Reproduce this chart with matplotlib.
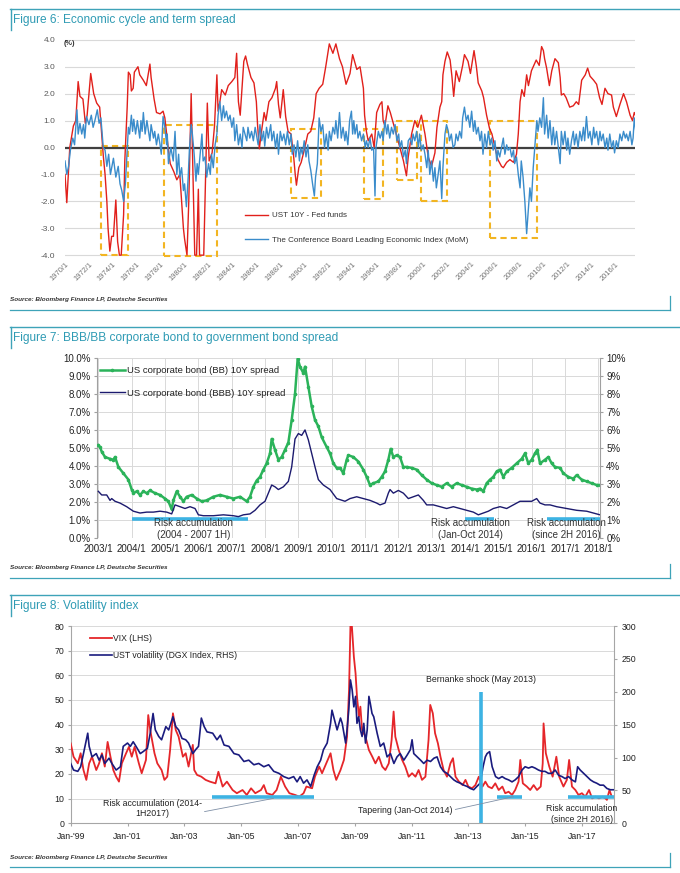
import matplotlib
matplotlib.use('Agg')
import matplotlib.pyplot as plt
from matplotlib.lines import Line2D
from matplotlib.patches import Rectangle
from matplotlib.ticker import FuncFormatter, FixedLocator

plt.rcParams['font.family'] = ['Liberation Sans', 'DejaVu Sans']
plt.rcParams['axes.unicode_minus'] = False

# ---------------- Figure 6 data ----------------
f6_red_t = [1970.0,1970.15,1970.4,1970.7,1970.9,1971.1,1971.25,1971.5,1971.7,1971.85,1972.15,1972.4,1972.65,1972.9,
            1973.05,1973.2,1973.35,1973.5,1973.6,1973.75,1973.9,1974.05,1974.25,1974.4,1974.55,1974.7,1974.9,1975.0,
            1975.2,1975.3,1975.45,1975.55,1975.7,1975.8,1976.1,1976.25,1976.55,1976.8,1977.1,1977.2,1977.45,1977.65,
            1977.95,1978.2,1978.35,1978.5,1978.65,1978.8,1979.1,1979.35,1979.6,1979.9,1980.0,1980.2,1980.35,1980.55,
            1980.7,1980.85,1981.0,1981.15,1981.25,1981.6,1981.9,1982.05,1982.3,1982.5,1982.7,1982.8,1982.95,1983.1,
            1983.4,1983.65,1983.95,1984.2,1984.35,1984.5,1984.65,1984.95,1985.1,1985.25,1985.55,1985.8,1986.0,1986.1,
            1986.25,1986.4,1986.65,1986.8,1987.05,1987.3,1987.6,1987.7,1987.85,1988.0,1988.25,1988.45,1988.65,1988.9,
            1989.1,1989.25,1989.35,1989.55,1989.75,1990.0,1990.3,1990.55,1990.8,1991.0,1991.25,1991.55,1991.8,1992.1,
            1992.4,1992.65,1992.95,1993.2,1993.5,1993.83,1994.05,1994.4,1994.67,1994.95,1995.05,1995.2,1995.35,1995.65,
            1995.85,1996.06,1996.33,1996.5,1996.6,1996.75,1997.0,1997.2,1997.45,1997.7,1998.0,1998.3,1998.55,1998.7,
            1998.98,1999.25,1999.5,1999.8,2000.1,2000.37,2000.65,2000.93,2001.1,2001.35,2001.5,2001.6,2001.77,2001.96,
            2002.2,2002.35,2002.5,2002.7,2002.97,2003.25,2003.4,2003.7,2003.9,2004.2,2004.4,2004.55,2004.85,2005.0,
            2005.25,2005.5,2005.7,2005.95,2006.2,2006.5,2006.65,2006.93,2007.2,2007.5,2007.75,2007.9,2008.05,2008.2,
            2008.4,2008.6,2008.75,2009.0,2009.15,2009.4,2009.65,2009.85,2010.0,2010.1,2010.27,2010.5,2010.7,2010.97,
            2011.25,2011.4,2011.5,2011.7,2011.9,2012.2,2012.5,2012.75,2012.95,2013.2,2013.5,2013.7,2013.9,2014.2,
            2014.45,2014.7,2014.9,2015.15,2015.4,2015.7,2015.85,2016.1,2016.4,2016.7,2016.95,2017.25,2017.45,2017.6,
            2017.75]
f6_red_v = [-1.0,-2.05,0.0,0.8,1.0,2.45,1.9,1.8,0.9,1.2,2.75,2.0,1.65,1.5,
            0.6,-0.3,-1.0,-2.0,-3.0,-3.85,-3.3,-3.3,-1.95,-3.5,-4.0,-4.0,-2.5,-0.5,
            1.5,2.8,2.7,2.1,2.2,2.8,3.0,2.7,2.5,2.3,3.1,2.6,1.8,1.3,
            1.25,1.35,1.1,0.5,-0.1,-0.6,-0.9,-1.2,-1.0,-3.0,-3.4,-4.0,-2.0,2.0,
            -1.0,-4.0,-4.0,-1.55,-4.0,-4.0,1.65,-0.5,-0.2,0.8,2.7,1.35,1.7,2.15,
            1.95,2.3,2.45,2.6,3.5,1.7,1.2,3.2,3.4,3.1,2.6,2.4,1.7,0.85,
            -0.05,0.5,1.3,1.0,1.7,1.85,2.2,2.45,1.6,1.1,2.15,1.15,0.6,0.5,
            -0.25,-1.0,-1.4,-0.75,-0.55,-0.1,0.5,0.6,1.1,2.0,2.2,2.35,3.0,3.85,
            3.5,3.85,3.3,3.0,2.35,2.75,3.45,2.9,3.0,2.2,1.2,0.6,0.25,0.5,
            0.0,1.3,1.6,1.7,1.0,0.8,1.55,1.3,0.9,0.5,0.0,-0.5,-1.05,-0.35,
            0.5,1.0,0.75,1.2,0.5,-0.35,-0.7,-0.2,0.75,1.5,1.7,2.7,3.2,3.55,
            3.25,2.65,1.9,2.85,2.45,3.05,3.45,3.2,2.75,3.6,3.0,2.4,2.1,1.85,
            1.2,0.7,0.5,0.0,-0.45,-0.7,-0.75,-0.55,-0.45,-0.55,-0.25,0.5,1.7,2.15,
            1.9,2.7,2.3,2.85,3.0,3.25,3.05,3.75,3.6,3.3,2.95,2.3,2.85,3.3,
            3.15,2.6,1.95,2.0,1.85,1.5,1.55,1.7,1.6,2.5,2.7,2.95,2.65,2.5,
            2.35,1.85,1.6,2.2,2.0,1.95,1.5,1.15,1.6,2.0,1.7,1.2,1.0,1.3,
            1.15]

f6_blue_t = [1970.0,1970.15,1970.3,1970.45,1970.65,1970.8,1971.0,1971.1,1971.25,1971.4,1971.55,1971.65,1971.8,1972.0,
             1972.2,1972.35,1972.5,1972.7,1972.85,1973.0,1973.2,1973.35,1973.5,1973.65,1973.8,1974.05,1974.25,1974.45,
             1974.6,1974.75,1974.9,1975.05,1975.15,1975.3,1975.4,1975.55,1975.65,1975.75,1975.9,1976.05,1976.25,1976.35,
             1976.45,1976.55,1976.7,1976.85,1977.1,1977.2,1977.4,1977.5,1977.65,1977.8,1977.95,1978.05,1978.2,1978.35,
             1978.5,1978.55,1978.65,1978.85,1979.05,1979.2,1979.35,1979.5,1979.6,1979.75,1979.9,1980.0,1980.15,1980.3,
             1980.4,1980.55,1980.65,1980.8,1980.95,1981.05,1981.15,1981.3,1981.45,1981.55,1981.7,1981.85,1982.0,1982.15,
             1982.25,1982.4,1982.55,1982.7,1982.8,1982.95,1983.1,1983.25,1983.35,1983.5,1983.65,1983.8,1983.95,1984.1,
             1984.2,1984.35,1984.5,1984.65,1984.8,1984.9,1985.05,1985.2,1985.3,1985.45,1985.6,1985.75,1985.9,1986.05,
             1986.15,1986.3,1986.45,1986.6,1986.7,1986.85,1987.0,1987.2,1987.3,1987.45,1987.6,1987.75,1987.85,1988.0,
             1988.15,1988.3,1988.45,1988.6,1988.75,1988.9,1989.0,1989.15,1989.3,1989.45,1989.6,1989.7,1989.85,1990.0,
             1990.15,1990.3,1990.4,1990.55,1990.7,1990.85,1990.95,1991.1,1991.25,1991.4,1991.55,1991.7,1991.85,1992.0,
             1992.1,1992.25,1992.4,1992.55,1992.65,1992.8,1992.95,1993.1,1993.25,1993.4,1993.5,1993.65,1993.8,1993.95,
             1994.05,1994.15,1994.25,1994.4,1994.5,1994.65,1994.8,1994.95,1995.1,1995.2,1995.35,1995.5,1995.65,1995.8,
             1995.92,1996.0,1996.2,1996.35,1996.5,1996.6,1996.75,1996.9,1997.0,1997.15,1997.3,1997.45,1997.6,1997.75,
             1997.9,1998.0,1998.15,1998.3,1998.45,1998.55,1998.7,1998.85,1999.0,1999.1,1999.25,1999.4,1999.55,1999.65,
             1999.8,1999.95,2000.1,2000.25,2000.37,2000.5,2000.65,2000.8,2000.93,2001.05,2001.2,2001.35,2001.5,2001.6,
             2001.77,2001.9,2002.05,2002.15,2002.3,2002.45,2002.6,2002.7,2002.85,2003.0,2003.15,2003.25,2003.4,2003.55,
             2003.7,2003.85,2004.0,2004.15,2004.27,2004.4,2004.55,2004.7,2004.83,2004.95,2005.1,2005.25,2005.4,2005.55,
             2005.67,2005.8,2005.95,2006.1,2006.2,2006.35,2006.5,2006.65,2006.78,2006.93,2007.05,2007.2,2007.35,2007.5,
             2007.6,2007.75,2007.9,2008.05,2008.15,2008.3,2008.45,2008.6,2008.72,2008.87,2009.0,2009.15,2009.3,2009.45,
             2009.55,2009.7,2009.85,2010.0,2010.1,2010.27,2010.4,2010.55,2010.7,2010.83,2010.95,2011.1,2011.25,2011.4,
             2011.5,2011.65,2011.8,2011.95,2012.05,2012.2,2012.35,2012.5,2012.6,2012.75,2012.9,2013.05,2013.2,2013.35,
             2013.45,2013.6,2013.75,2013.9,2014.05,2014.2,2014.3,2014.45,2014.6,2014.73,2014.85,2015.0,2015.15,2015.3,
             2015.4,2015.55,2015.7,2015.85,2015.95,2016.1,2016.25,2016.4,2016.55,2016.7,2016.85,2016.95,2017.1,2017.25,
             2017.4,2017.5,2017.6,2017.75]
f6_blue_v = [-0.5,-1.0,-0.7,-0.1,0.35,0.1,1.4,0.5,0.9,0.5,0.85,0.35,1.15,0.85,
             1.2,0.75,1.0,1.4,0.9,1.1,0.0,-0.1,-0.7,-0.25,-1.0,-0.4,-1.1,-0.7,
             -1.35,-1.6,-2.0,-1.35,-0.5,0.75,0.5,1.2,0.6,1.05,0.5,1.0,0.35,1.0,
             0.6,1.3,0.5,1.0,0.25,0.85,0.35,0.6,0.1,0.5,0.1,-0.25,1.15,0.75,
             0.1,0.5,-0.6,0.0,-0.5,0.6,-1.0,-0.25,-1.1,-0.75,-1.6,-1.35,-2.2,-1.1,
             -0.1,0.85,0.5,-0.25,-1.25,-0.6,-1.0,-0.25,0.5,-0.5,-0.35,-1.1,-0.6,-1.0,
             -0.25,-0.75,0.1,0.5,1.2,1.7,1.0,1.55,1.1,1.35,1.0,1.2,0.75,1.1,
             0.25,0.85,0.1,0.5,0.0,0.75,0.5,0.25,0.75,0.35,0.6,0.25,0.75,0.35,
             0.1,0.85,0.25,0.6,0.05,0.75,0.35,0.85,0.25,0.6,0.0,0.5,-0.25,0.6,
             0.25,0.5,0.1,0.6,0.1,0.5,-0.25,0.1,-0.35,0.25,-0.5,0.0,-0.25,0.25,
             -0.35,0.1,-0.5,-0.85,-1.35,-1.8,-1.1,-0.6,1.1,0.6,0.85,0.0,0.5,-0.1,
             0.6,0.25,0.75,0.5,1.0,0.35,1.3,0.35,0.75,0.25,0.6,0.1,1.0,1.35,
             0.5,1.0,0.5,0.85,0.35,0.6,0.25,0.5,0.0,0.25,0.0,0.35,-0.1,0.0,
             -1.8,0.0,0.6,0.35,0.6,0.25,1.0,0.5,0.85,0.35,0.75,0.5,0.85,0.25,
             0.5,0.0,0.25,-0.35,-0.1,-0.6,0.25,0.35,0.1,0.5,0.25,0.6,0.0,0.5,
             -0.1,0.1,-0.25,-0.75,-0.1,-1.0,-0.5,-1.25,-0.75,-1.5,-1.0,-0.5,-1.9,-0.75,
             0.5,0.85,0.6,0.25,0.5,0.0,0.1,0.5,0.25,0.6,0.35,1.1,1.5,1.0,
             1.2,0.75,1.35,0.6,1.0,0.5,0.75,0.25,0.6,-0.25,0.5,0.0,0.6,0.1,
             0.35,-0.1,0.25,-0.5,-0.1,-0.35,0.0,0.35,-0.25,0.1,-0.1,0.0,-0.35,-0.1,
             -0.6,-0.35,-1.0,-1.5,-0.5,-1.1,-2.0,-3.2,-2.45,-1.5,-2.0,-0.75,0.1,1.0,
             0.6,1.1,0.75,1.85,0.5,1.2,0.35,1.0,0.1,0.75,0.1,0.6,0.0,-0.6,
             0.6,0.1,0.6,-0.1,0.35,-0.25,0.25,0.6,0.1,0.5,0.0,0.6,0.25,0.75,
             0.25,1.15,0.35,0.6,0.1,0.75,0.35,0.6,0.1,0.6,0.25,0.5,0.0,0.35,
             -0.1,0.5,0.0,0.25,-0.2,0.25,0.0,0.5,0.25,0.6,0.35,0.5,0.25,0.6,
             0.1,0.35,1.1,0.5]

f6_box_start = [1973.0, 1978.3, 1988.9, 1995.0, 1997.8, 1999.8, 2005.5]
f6_box_end = [1975.3, 1982.7, 1991.4, 1996.55, 1999.4, 2001.9, 2009.5]
f6_box_top = [0.06, 0.83, 0.70, 0.70, 0.98, 0.98, 1.0]
f6_box_bottom = [-4.0, -4.02, -1.86, -1.9, -1.19, -1.98, -3.37]
f6_xticks = list(range(1970, 2017, 2))
f6_xlabels = [f'{y}/1' for y in f6_xticks]
f6_yticks = [-4.0, -3.0, -2.0, -1.0, 0.0, 1.0, 2.0, 3.0, 4.0]

# ---------------- Figure 7 data ----------------
f7_bb_t = [2003.0,2003.05,2003.1,2003.2,2003.35,2003.45,2003.5,2003.6,2003.75,2003.9,2004.0,2004.05,2004.15,2004.25,
           2004.35,2004.45,2004.55,2004.7,2004.85,2005.0,2005.1,2005.2,2005.25,2005.35,2005.45,2005.55,2005.65,2005.8,
           2005.95,2006.1,2006.25,2006.45,2006.65,2006.85,2007.05,2007.25,2007.45,2007.55,2007.65,2007.75,2007.85,2007.95,
           2008.05,2008.15,2008.2,2008.3,2008.4,2008.5,2008.6,2008.7,2008.8,2008.9,2008.98,2009.05,2009.15,2009.2,
           2009.3,2009.4,2009.5,2009.6,2009.7,2009.85,2009.95,2010.05,2010.15,2010.25,2010.35,2010.45,2010.5,2010.65,
           2010.8,2010.95,2011.05,2011.15,2011.25,2011.4,2011.5,2011.6,2011.7,2011.77,2011.85,2011.95,2012.05,2012.15,
           2012.25,2012.4,2012.55,2012.7,2012.85,2013.0,2013.15,2013.3,2013.45,2013.6,2013.75,2013.9,2014.05,2014.2,
           2014.35,2014.45,2014.55,2014.65,2014.75,2014.85,2014.95,2015.05,2015.15,2015.25,2015.4,2015.55,2015.7,2015.8,
           2015.9,2016.0,2016.1,2016.17,2016.25,2016.4,2016.5,2016.6,2016.7,2016.85,2016.95,2017.1,2017.25,2017.35,
           2017.5,2017.65,2017.8,2017.95,2018.05]
f7_bb_v = [5.15,5.05,4.8,4.5,4.4,4.35,4.5,3.95,3.6,3.25,2.7,2.5,2.6,2.4,
           2.6,2.5,2.65,2.5,2.4,2.2,2.05,1.6,2.1,2.6,2.3,2.05,2.3,2.4,
           2.2,2.05,2.1,2.3,2.4,2.3,2.2,2.3,2.05,2.3,2.85,3.2,3.4,3.8,
           4.15,4.7,5.5,4.9,4.35,4.5,4.9,5.3,6.55,8.0,9.95,9.5,9.15,9.5,
           8.4,7.3,6.55,6.2,5.6,5.05,4.7,4.15,3.9,3.9,3.6,4.35,4.6,4.5,
           4.25,3.8,3.4,2.95,3.05,3.15,3.4,3.7,4.35,4.95,4.5,4.6,4.5,3.95,
           3.95,3.9,3.8,3.5,3.25,3.05,2.95,2.85,3.05,2.85,3.05,2.95,2.85,2.75,
           2.7,2.75,2.6,3.05,3.25,3.4,3.7,3.8,3.4,3.7,3.9,4.15,4.4,4.7,
           4.15,4.35,4.7,4.9,4.15,4.35,4.5,4.15,3.95,3.9,3.6,3.4,3.3,3.5,
           3.25,3.15,3.05,2.95,2.95]
f7_bbb_t = [2003.0,2003.1,2003.25,2003.35,2003.4,2003.5,2003.65,2003.85,2004.05,2004.25,2004.45,2004.65,2004.85,2005.05,
            2005.2,2005.3,2005.45,2005.6,2005.75,2005.9,2006.0,2006.15,2006.45,2006.75,2007.05,2007.2,2007.35,2007.55,
            2007.7,2007.85,2008.0,2008.1,2008.2,2008.3,2008.4,2008.55,2008.7,2008.8,2008.9,2009.0,2009.1,2009.2,
            2009.3,2009.4,2009.5,2009.6,2009.75,2009.95,2010.15,2010.4,2010.55,2010.75,2010.95,2011.15,2011.35,2011.45,
            2011.6,2011.7,2011.75,2011.85,2012.0,2012.15,2012.3,2012.45,2012.6,2012.75,2012.85,2013.05,2013.25,2013.45,
            2013.65,2013.85,2014.05,2014.25,2014.4,2014.55,2014.7,2014.85,2015.05,2015.25,2015.45,2015.65,2015.85,2016.0,
            2016.15,2016.25,2016.4,2016.55,2016.75,2017.05,2017.35,2017.65,2017.85,2018.05]
f7_bbb_v = [2.6,2.4,2.4,2.1,2.2,2.05,1.95,1.75,1.5,1.4,1.45,1.45,1.5,1.45,
            1.35,1.85,1.75,1.65,1.75,1.65,1.3,1.25,1.25,1.3,1.25,1.2,1.3,1.35,
            1.55,1.85,2.05,2.5,2.95,2.85,2.7,2.85,3.15,3.95,5.5,5.8,5.7,6.0,
            5.45,4.7,3.95,3.25,2.95,2.7,2.2,2.05,2.2,2.3,2.2,2.1,1.95,1.85,
            1.95,2.5,2.7,2.5,2.65,2.5,2.2,2.3,2.4,2.1,1.85,1.85,1.75,1.65,
            1.75,1.65,1.55,1.45,1.3,1.4,1.5,1.65,1.75,1.65,1.85,2.05,2.05,2.05,
            2.2,1.95,1.85,1.85,1.75,1.65,1.55,1.5,1.4,1.3]
f7_years = list(range(2003, 2019))
f7_xlabels = [f'{y}/1' for y in f7_years]
f7_bar_start = [2004.0, 2014.0, 2016.45]
f7_bar_end = [2007.5, 2014.87, 2018.05]
f7_bar_level = 1.05
f7_notes = ['Risk accumulation\n(2004 - 2007 1H)', 'Risk accumulation\n(Jan-Oct 2014)', 'Risk accumulation\n(since 2H 2016)']
f7_note_x = [2005.85, 2014.15, 2017.05]

# ---------------- Figure 8 data ----------------
f8_vix_t = [1999.0,1999.1,1999.25,1999.35,1999.45,1999.55,1999.65,1999.75,1999.9,2000.0,2000.1,2000.2,2000.3,2000.4,
            2000.5,2000.6,2000.7,2000.8,2000.95,2001.05,2001.15,2001.25,2001.4,2001.5,2001.65,2001.73,2001.8,2001.95,
            2002.05,2002.2,2002.3,2002.4,2002.5,2002.6,2002.7,2002.8,2002.95,2003.05,2003.15,2003.3,2003.35,2003.45,
            2003.6,2003.75,2003.9,2004.1,2004.2,2004.35,2004.5,2004.7,2004.85,2005.05,2005.2,2005.35,2005.5,2005.7,
            2005.8,2005.9,2006.1,2006.25,2006.4,2006.55,2006.7,2006.9,2007.05,2007.2,2007.3,2007.5,2007.6,2007.75,
            2007.85,2008.0,2008.15,2008.25,2008.35,2008.5,2008.62,2008.73,2008.8,2008.85,2008.9,2008.97,2009.03,2009.08,
            2009.15,2009.2,2009.26,2009.38,2009.5,2009.62,2009.73,2009.85,2009.97,2010.08,2010.2,2010.3,2010.37,2010.43,
            2010.55,2010.67,2010.78,2010.9,2011.02,2011.14,2011.25,2011.37,2011.49,2011.6,2011.66,2011.75,2011.83,2011.93,
            2012.02,2012.13,2012.25,2012.37,2012.46,2012.55,2012.67,2012.8,2012.9,2013.0,2013.13,2013.25,2013.37,2013.5,
            2013.6,2013.7,2013.83,2013.95,2014.07,2014.2,2014.3,2014.42,2014.54,2014.65,2014.77,2014.83,2014.92,2015.06,
            2015.18,2015.3,2015.42,2015.55,2015.62,2015.65,2015.73,2015.85,2015.97,2016.1,2016.2,2016.35,2016.47,2016.55,
            2016.65,2016.77,2016.88,2017.0,2017.12,2017.25,2017.36,2017.48,2017.6,2017.72,2017.83,2017.88,2017.97,2018.05]
f8_vix_v = [32.4,27,24.3,28.4,21.6,17.6,24.3,27,21.6,24.3,28.4,23,33,27,
            21.6,18.9,16.9,24.3,28.4,31,27,31,24.3,20.3,25.7,43.9,37.8,28.4,
            24.3,21.6,17.6,18.9,29.7,44.6,37.8,35.1,27,28.4,23,31.8,21.6,19.6,
            18.9,17.6,16.9,16.2,20.9,14.9,16.9,13.5,12.2,13.5,11.5,14.2,12.2,13.5,
            15.5,12.2,11.5,13.5,18.9,14.9,12.2,11.5,10.8,12.2,14.9,14.2,18.9,23,
            20.3,24.3,28.4,21.6,17.6,21.6,25.7,35.1,54,80,80,67.6,60.8,51.4,
            43.2,47.3,37.8,35.1,29.7,27,24.3,27,23,21.6,24.3,33.8,45.3,35.1,
            29.7,25.7,23,18.9,20.3,18.9,21.6,17.6,18.9,33.8,48,44.6,36.5,32.4,
            27,21.6,18.9,24.3,26.4,18.9,16.9,15.5,17.6,14.9,14.2,15.5,18.9,14.9,
            16.9,14.9,14.2,16.2,13.5,14.9,12.2,12.8,11.5,13.5,16.9,25.7,16.2,14.9,
            13.5,15.5,13.5,14.9,24.3,40.5,28.4,23,18.9,27,18.9,14.9,17.6,25.7,
            14.9,13.5,11.5,12.2,10.8,13.5,10.1,10.8,10.1,10.8,10.1,9.5,13.5,10.8]
f8_dgx_t = [1999.0,1999.1,1999.25,1999.35,1999.45,1999.6,1999.65,1999.75,1999.9,2000.0,2000.1,2000.2,2000.35,2000.45,
            2000.6,2000.75,2000.85,2001.0,2001.1,2001.2,2001.3,2001.45,2001.55,2001.7,2001.8,2001.9,2001.98,2002.1,
            2002.2,2002.35,2002.45,2002.6,2002.7,2002.8,2002.92,2003.05,2003.15,2003.3,2003.4,2003.5,2003.6,2003.7,
            2003.8,2004.0,2004.15,2004.27,2004.4,2004.57,2004.75,2004.92,2005.1,2005.27,2005.45,2005.62,2005.8,2005.97,
            2006.15,2006.33,2006.5,2006.68,2006.85,2006.97,2007.08,2007.2,2007.32,2007.45,2007.57,2007.68,2007.8,2007.9,
            2008.03,2008.15,2008.2,2008.26,2008.38,2008.5,2008.56,2008.62,2008.68,2008.73,2008.79,2008.85,2008.91,2008.97,
            2009.03,2009.08,2009.14,2009.2,2009.26,2009.32,2009.38,2009.44,2009.5,2009.55,2009.61,2009.67,2009.79,2009.9,
            2010.02,2010.14,2010.26,2010.38,2010.49,2010.6,2010.73,2010.85,2010.96,2011.02,2011.08,2011.2,2011.32,2011.43,
            2011.55,2011.67,2011.79,2011.9,2012.02,2012.13,2012.25,2012.37,2012.49,2012.6,2012.72,2012.84,2012.96,2013.07,
            2013.19,2013.3,2013.42,2013.52,2013.6,2013.66,2013.75,2013.84,2013.96,2014.07,2014.19,2014.3,2014.42,2014.54,
            2014.65,2014.77,2014.89,2015.0,2015.12,2015.24,2015.35,2015.47,2015.59,2015.7,2015.82,2015.94,2016.06,2016.18,
            2016.3,2016.41,2016.53,2016.65,2016.77,2016.85,2016.94,2017.06,2017.18,2017.3,2017.41,2017.52,2017.64,2017.76,
            2017.88,2018.0,2018.1]
f8_dgx_v = [91,81,79,86,106,137,117,101,106,96,104,91,99,91,
            81,86,117,122,117,124,117,106,109,114,137,167,142,132,
            127,147,142,162,147,142,129,127,122,106,112,117,160,147,
            139,137,127,134,119,117,106,104,94,96,89,91,86,89,
            79,76,71,68,71,63,71,61,66,56,73,86,96,112,
            122,152,172,162,142,160,152,137,122,142,172,218,203,177,
            193,152,162,142,132,152,122,142,193,182,167,162,137,117,
            122,101,106,91,101,106,96,104,112,127,106,101,96,91,
            96,94,99,101,86,79,76,71,66,63,61,58,56,53,
            51,56,61,86,101,106,109,86,71,68,71,68,66,63,
            66,71,81,86,84,86,84,81,79,79,76,76,81,73,
            71,68,71,66,63,86,81,76,71,66,63,61,58,58,
            53,51,51]
f8_xticks = list(range(1999, 2018, 2))
f8_xlabels = [f"Jan-'{y % 100:02d}" for y in f8_xticks]
f8_bar_start = [2003.98, 2014.0, 2016.5]
f8_bar_end = [2007.56, 2014.9, 2018.13]
f8_bar_level = 10.5
f8_shock_x = 2013.46
f8_shock_top_rhs = 200

# ---------------- layout helpers ----------------
W, H = 680, 873
fig = plt.figure(figsize=(6.8, 8.73), dpi=100)
TEAL = '#2F9BB4'
LINE = '#3EA3B8'
SRC = 'Source: Bloomberg Finance LP, Deutsche Securities'

def fx(px):
    return px / W

def fy(py):
    return 1 - py / H

def frame(top, title, src_y, bottom):
    fig.add_artist(Line2D([fx(10), fx(680)], [fy(top), fy(top)], color=LINE, lw=1.0))
    fig.add_artist(Line2D([fx(10.5), fx(10.5)], [fy(top), fy(top + 21)], color=LINE, lw=1.0))
    fig.text(fx(13), fy(top + 11), title, color=TEAL, fontsize=8.6, va='center', ha='left')
    fig.text(fx(10), fy(src_y), SRC, fontsize=4.6, style='italic', weight='bold', color='#333333',
             va='center', ha='left')
    fig.add_artist(Line2D([fx(10), fx(670)], [fy(bottom), fy(bottom)], color=LINE, lw=0.9))
    fig.add_artist(Line2D([fx(670), fx(670)], [fy(bottom), fy(bottom - 14)], color=LINE, lw=0.9))

frame(9, 'Figure 6: Economic cycle and term spread', 300, 310)
frame(327, 'Figure 7: BBB/BB corporate bond to government bond spread', 568, 578)
frame(595, 'Figure 8: Volatility index', 857, 867)

# ---------------- Figure 6 ----------------
ax6 = fig.add_axes([fx(65), fy(256.5), 570 / W, 218 / H])
ax6.set_xlim(1970.0, 2017.66)
ax6.set_ylim(-4.05, 4.05)
for s in ax6.spines.values():
    s.set_visible(False)
ax6.set_yticks(f6_yticks)
ax6.yaxis.set_major_formatter(FuncFormatter(lambda v, p: f'{v:.1f}'))
ax6.grid(axis='y', color='#D9D9D9', lw=0.8)
ax6.set_axisbelow(True)
ax6.axhline(0, color='#404040', lw=1.6, zorder=3)
ax6.tick_params(axis='y', length=0, labelsize=6, labelcolor='#595959', pad=7)
ax6.set_xticks(f6_xticks)
ax6.set_xticklabels(f6_xlabels, rotation=45, ha='right', rotation_mode='anchor')
ax6.tick_params(axis='x', length=0, labelsize=5.4, labelcolor='#737373', pad=3)
for xs, xe, yt, yb in zip(f6_box_start, f6_box_end, f6_box_top, f6_box_bottom):
    ax6.add_patch(Rectangle((xs, yb), xe - xs, yt - yb, fill=False, ec='#F2B522', lw=1.5,
                            ls=(0, (3, 2)), zorder=2, clip_on=False))
l_red, = ax6.plot(f6_red_t, f6_red_v, color='#E1201B', lw=1.0, zorder=4, label='UST 10Y - Fed funds')
l_blue, = ax6.plot(f6_blue_t, f6_blue_v, color='#3A8CCB', lw=1.0, zorder=5,
                   label='The Conference Board Leading Economic Index (MoM)')
ax6.text(-0.003, 0.975, '(%)', transform=ax6.transAxes, fontsize=5.2, weight='bold',
         color='#333333', ha='left', va='center')
ax6.legend(handles=[l_red, l_blue], loc='upper left', bbox_to_anchor=(0.316, 0.205), frameon=False,
           fontsize=5.8, handlelength=2.85, handletextpad=0.5, labelspacing=2.05, borderpad=0,
           borderaxespad=0, labelcolor='#333333')

# ---------------- Figure 7 ----------------
ax7 = fig.add_axes([fx(96.7), fy(538.3), 503.3 / W, 180.6 / H])
ax7.set_xlim(2002.95, 2018.05)
ax7.set_ylim(0, 10)
ax7.set_yticks(range(0, 11))
ax7.yaxis.set_major_formatter(FuncFormatter(lambda v, p: f'{v:.1f}%'))
ax7.set_xticks(f7_years)
ax7.set_xticklabels(f7_xlabels)
ax7.grid(True, color='#D9D9D9', lw=0.7)
ax7.set_axisbelow(True)
for k in ['top', 'bottom', 'right']:
    ax7.spines[k].set_visible(False)
ax7.spines['left'].set_color('#A0A0A0')
ax7.tick_params(axis='y', length=2.5, color='#A0A0A0', labelsize=7, labelcolor='#222222', pad=2)
ax7.tick_params(axis='x', length=0, labelsize=7, labelcolor='#222222', pad=4)
ax7r = ax7.twinx()
ax7r.set_ylim(0, 10)
ax7r.set_yticks(range(0, 11))
ax7r.yaxis.set_major_formatter(FuncFormatter(lambda v, p: f'{int(v)}%'))
for k in ['top', 'bottom', 'left']:
    ax7r.spines[k].set_visible(False)
ax7r.spines['right'].set_color('#A0A0A0')
ax7r.tick_params(axis='y', length=2.5, color='#A0A0A0', labelsize=7, labelcolor='#222222', pad=2)
for xs, xe in zip(f7_bar_start, f7_bar_end):
    ax7.plot([xs, xe], [f7_bar_level, f7_bar_level], color='#3DB3E3', lw=2.6, solid_capstyle='butt', zorder=3)
for xn, note in zip(f7_note_x, f7_notes):
    ax7.text(xn, 0.5, note, ha='center', va='center', fontsize=7, color='#333333',
             linespacing=1.2, zorder=4)
l_bb, = ax7.plot(f7_bb_t, f7_bb_v, color='#2BB35A', lw=1.8, marker='o', ms=1.6, zorder=5,
                 label='US corporate bond (BB) 10Y spread')
l_bbb, = ax7.plot(f7_bbb_t, f7_bbb_v, color='#1C1A6E', lw=1.0, zorder=5,
                  label='US corporate bond (BBB) 10Y spread')
ax7.legend(handles=[l_bb, l_bbb], loc='upper left', bbox_to_anchor=(0.0066, 0.955), frameon=False,
           fontsize=6.8, handlelength=2.6, handletextpad=0.25, labelspacing=1.45, borderpad=0,
           borderaxespad=0, labelcolor='#222222')

# ---------------- Figure 8 ----------------
ax8 = fig.add_axes([fx(70.7), fy(823.3), 543.3 / W, 197.3 / H])
ax8.set_xlim(1999.0, 2018.13)
ax8.set_ylim(0, 80)
ax8.set_yticks(range(0, 81, 10))
ax8.set_xticks(f8_xticks)
ax8.set_xticklabels(f8_xlabels)
ax8.grid(axis='y', color='#D9D9D9', lw=0.7)
ax8.set_axisbelow(True)
ax8.spines['top'].set_visible(False)
ax8.spines['right'].set_visible(False)
ax8.spines['left'].set_color('#A6A6A6')
ax8.spines['bottom'].set_color('#A6A6A6')
ax8.tick_params(axis='y', length=2.5, color='#A6A6A6', labelsize=6.3, labelcolor='#222222', pad=2)
ax8.tick_params(axis='x', length=2.5, color='#A6A6A6', labelsize=6.3, labelcolor='#222222', pad=4)
ax8r = ax8.twinx()
ax8r.set_ylim(0, 300)
ax8r.set_yticks(range(0, 301, 50))
for k in ['top', 'bottom', 'left']:
    ax8r.spines[k].set_visible(False)
ax8r.spines['right'].set_color('#A6A6A6')
ax8r.tick_params(axis='y', length=2.5, color='#A6A6A6', labelsize=6.3, labelcolor='#222222', pad=3)
l_vix, = ax8.plot(f8_vix_t, f8_vix_v, color='#E5262A', lw=1.3, zorder=3, label='VIX (LHS)')
l_dgx, = ax8r.plot(f8_dgx_t, f8_dgx_v, color='#1A1B7E', lw=1.2, zorder=3,
                   label='UST volatility (DGX Index, RHS)')
ax8r.plot([f8_shock_x, f8_shock_x], [0, f8_shock_top_rhs], color='#3DB3E3', lw=2.6, zorder=4,
          solid_capstyle='butt')
for xs, xe in zip(f8_bar_start, f8_bar_end):
    ax8.plot([xs, xe], [f8_bar_level, f8_bar_level], color='#3DB3E3', lw=2.6, solid_capstyle='butt',
             zorder=4, clip_on=False)
ax8r.text(f8_shock_x, 218, 'Bernanke shock (May 2013)', ha='center', va='center', fontsize=6.3,
          color='#222222', zorder=5)
ax8r.annotate('Risk accumulation (2014-\n1H2017)', xy=(2006.14, 10.1 * 3.75), xytext=(2001.87, 6.1 * 3.75),
              ha='center', va='center', fontsize=6.3, color='#222222', zorder=5,
              arrowprops=dict(arrowstyle='-', color='#7F8FA6', lw=0.6, shrinkA=0, shrinkB=0,
                              relpos=(1.0, 0.3)))
ax8r.annotate('Tapering (Jan-Oct 2014)', xy=(2014.59, 10.8 * 3.75), xytext=(2010.78, 5.0 * 3.75),
              ha='center', va='center', fontsize=6.3, color='#222222', zorder=5,
              arrowprops=dict(arrowstyle='-', color='#7F8FA6', lw=0.6, shrinkA=0, shrinkB=0,
                              relpos=(1.0, 0.6)))
ax8r.text(2017.0, 3.85 * 3.75, 'Risk accumulation\n(since 2H 2016)', ha='center', va='center',
          fontsize=6.3, color='#222222', zorder=5, linespacing=1.3)
ax8.legend(handles=[l_vix, l_dgx], loc='upper left', bbox_to_anchor=(0.0355, 0.957), frameon=False,
           fontsize=6.2, handlelength=2.5, handletextpad=0.2, labelspacing=0.9, borderpad=0,
           borderaxespad=0, labelcolor='#222222')

fig.savefig('out.png', dpi=100)
